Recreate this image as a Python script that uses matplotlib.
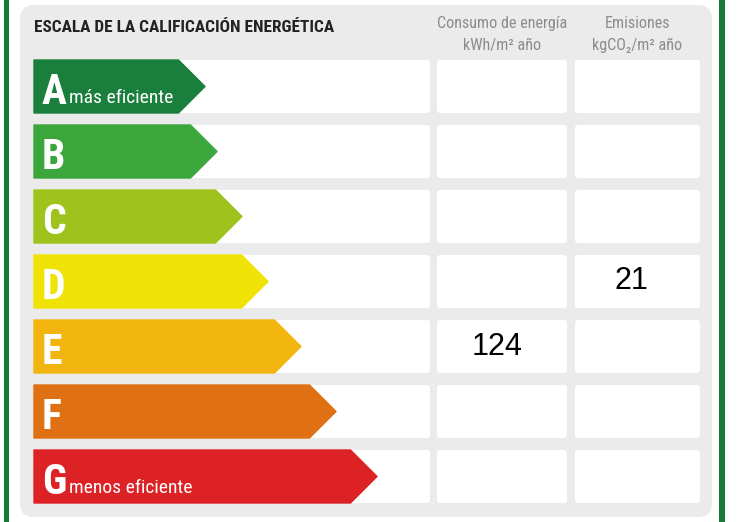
import matplotlib.pyplot as plt
from matplotlib.patches import FancyBboxPatch, Polygon, Rectangle

letters = ['A', 'B', 'C', 'D', 'E', 'F', 'G']
subtitles = ['más eficiente', '', '', '', '', '', 'menos eficiente']
colors = ['#1a7f3c', '#3aa63c', '#9fc31c', '#efe204', '#f2b50f', '#df7013', '#dd2225']
arrow_tips = [205, 217, 242, 268, 301, 336, 377]
consumo = {'E': '124'}
emisiones = {'D': '21'}

title = 'ESCALA DE LA CALIFICACIÓN ENERGÉTICA'
col_heads = [('Consumo de energía', 'kWh/m² año'), ('Emisiones', 'kgCO₂/m² año')]

narrow = ['Roboto Condensed', 'Liberation Sans', 'DejaVu Sans']
arial = ['Liberation Sans', 'DejaVu Sans']

fig = plt.figure(figsize=(7.38, 5.22), dpi=100)
ax = fig.add_axes([0, 0, 1, 1])
ax.set_xlim(0, 738)
ax.set_ylim(522, 0)
ax.axis('off')

# green frame lines
ax.add_patch(Rectangle((4, 0), 5, 522, color='#157a35', lw=0))
ax.add_patch(Rectangle((719, 0), 6, 522, color='#157a35', lw=0))

# gray panel
ax.add_patch(FancyBboxPatch((34, 19), 664, 484, boxstyle='round,pad=14',
                            fc='#ebebeb', ec='none'))

ax.text(34, 32, title, family=narrow, weight='bold', fontsize=12.4,
        color='#222222', va='baseline')

col_x = [(437, 567), (575, 700)]
for (x0, x1), (h1, h2) in zip(col_x, col_heads):
    cx = (x0 + x1) / 2
    ax.text(cx, 28, h1, family=narrow, fontsize=11.6, color='#8c8c8c',
            ha='center', va='baseline')
    ax.text(cx, 50, h2, family=narrow, fontsize=11.6, color='#8c8c8c',
            ha='center', va='baseline')

row_top, row_h, row_step = 60, 53, 65
for i, (let, sub, col, tip) in enumerate(zip(letters, subtitles, colors, arrow_tips)):
    y0 = row_top + i * row_step
    y1 = y0 + row_h
    # white boxes
    for x0, x1 in [(34, 430)] + col_x:
        ax.add_patch(FancyBboxPatch((x0 + 3, y0 + 3), x1 - x0 - 6, row_h - 6,
                                    boxstyle='round,pad=3', fc='white', ec='none'))
    # arrow
    body = tip - row_h / 2
    ax.add_patch(Polygon([(34, y0), (body, y0), (tip, (y0 + y1) / 2), (body, y1), (34, y1)],
                         closed=True, fc=col, ec=col, lw=1, joinstyle='round'))
    ax.text(42, y0 + 44, let, family=narrow, weight='bold', fontsize=30,
            color='white', va='baseline')
    if sub:
        ax.text(69, y0 + 43, sub, family=narrow, fontsize=14,
                color='white', va='baseline')
    if let in consumo:
        ax.text(497, y0 + 35, consumo[let], family=arial,
                fontsize=22, color='black', ha='center', va='baseline')
    if let in emisiones:
        ax.text(631, y0 + 34, emisiones[let], family=arial,
                fontsize=22, color='black', ha='center', va='baseline')

fig.savefig('out.png', dpi=100)
